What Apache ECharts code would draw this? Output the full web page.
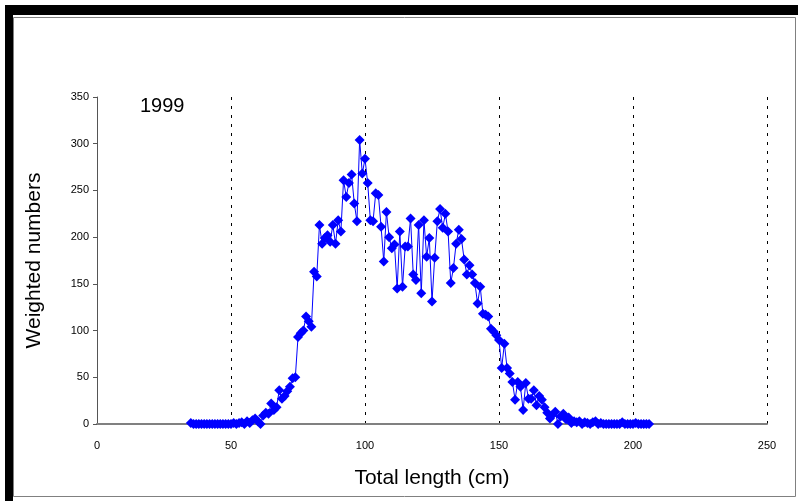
<!DOCTYPE html>
<html><head><meta charset="utf-8">
<script src="https://cdn.jsdelivr.net/npm/echarts@6/dist/echarts.min.js"></script>
<style>html,body{margin:0;padding:0;background:#fff}#c{width:798px;height:501px}</style>
</head><body><div id="c"></div>
<script>
var lengthStart = 35;
var weightedNumbers = [
 1,0,0,0,0,0,0,0,0,0,0,0,0,0,0,0,1,0,1,2,0,3,1,4,6,3,0,9,12,11,
 22,15,18,36,27,30,35,40,49,50,93,97,100,115,110,104,163,158,213,193,
 199,202,195,213,193,218,206,261,243,258,267,236,217,304,268,284,258,218,217,247,
 245,211,174,227,200,188,192,145,206,147,190,190,220,160,154,213,140,218,179,199,
 131,178,217,230,210,225,206,151,167,193,208,198,176,160,170,160,151,129,147,118,
 117,115,102,99,95,90,60,86,60,54,45,26,45,40,15,44,27,27,36,20,
 30,26,18,12,6,10,13,0,8,11,5,7,1,3,2,3,0,2,1,0,
 2,3,0,1,0,0,0,0,0,0,0,2,0,0,0,0,1,0,0,0,0,0
];
var xTicks = [0, 50, 100, 150, 200, 250];
var yTicks = [0, 50, 100, 150, 200, 250, 300, 350];
var yearLabel = '1999';

var seriesData = weightedNumbers.map(function(v, i){ return [lengthStart + i, v]; });

var chart = echarts.init(document.getElementById('c'), null, {renderer:'canvas'});
var font = '"Liberation Sans", Arial, sans-serif';
chart.setOption({
  animation: false,
  backgroundColor: '#fff',
  grid: {left: 97, right: 31, top: 97, bottom: 77},
  xAxis: {
    type: 'value', min: xTicks[0], max: xTicks[xTicks.length-1], interval: 50,
    name: 'Total length (cm)', nameLocation: 'middle', nameGap: 44,
    nameTextStyle: {fontFamily: font, fontSize: 21, color: '#000'},
    axisLine: {lineStyle: {color: '#808080', width: 2}},
    axisTick: {show: false},
    axisLabel: {fontFamily: font, fontSize: 11, color: '#000', margin: 16},
    splitLine: {show: true, lineStyle: {color: '#000', type: [3, 6], width: 1}}
  },
  yAxis: {
    type: 'value', min: yTicks[0], max: yTicks[yTicks.length-1], interval: 50,
    name: 'Weighted numbers', nameLocation: 'middle', nameGap: 52, nameRotate: 90,
    nameTextStyle: {fontFamily: font, fontSize: 21, color: '#000'},
    axisLine: {show: true, lineStyle: {color: '#555', width: 1}},
    axisTick: {show: true, inside: false, length: 4, lineStyle: {color: '#555'}},
    axisLabel: {fontFamily: font, fontSize: 11, color: '#000', margin: 8},
    splitLine: {show: false}
  },
  graphic: [
    {type: 'rect', shape: {x: 5, y: 5, width: 793, height: 10}, style: {fill: '#000'}, z: 100},
    {type: 'rect', shape: {x: 5, y: 5, width: 8, height: 496}, style: {fill: '#000'}, z: 100},
    {type: 'rect', shape: {x: 13.5, y: 17.5, width: 782, height: 479}, style: {fill: 'none', stroke: '#808080', lineWidth: 1}, z: 100},
    {type: 'text', left: 140, top: 96, style: {text: yearLabel, font: '20px ' + font, fill: '#000'}, z: 100}
  ],
  series: [{
    type: 'line',
    data: seriesData,
    symbol: 'diamond',
    symbolSize: 10,
    showAllSymbol: true,
    lineStyle: {color: '#0000ff', width: 1},
    itemStyle: {color: '#0000ff'},
    z: 5
  }]
});
</script></body></html>
